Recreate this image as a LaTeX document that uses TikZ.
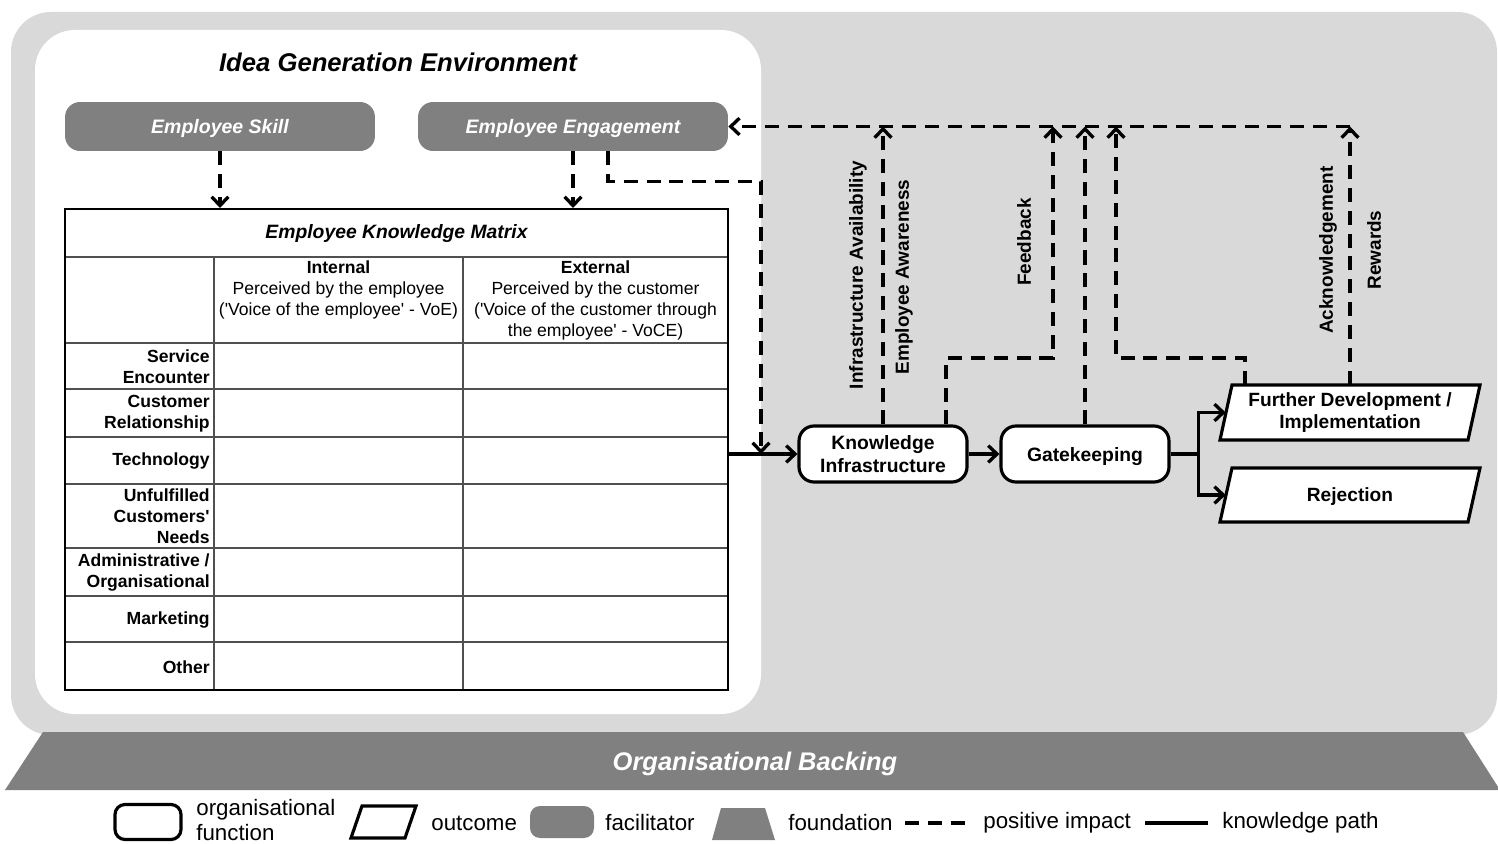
\documentclass[tikz,border=0pt]{standalone}
\usepackage{fontspec}
\setmainfont{Liberation Sans}[Ligatures=TeXOff]
\usetikzlibrary{arrows.meta,calc}
\definecolor{panelgray}{RGB}{217,217,217}
\definecolor{darkfill}{RGB}{128,128,128}
\definecolor{gridgray}{RGB}{80,80,80}
\begin{document}
\begin{tikzpicture}[x=0.02cm,y=-0.02cm,
  tip/.style={-{Straight Barb[length=5pt,width=9.5pt]}},
  impact/.style={line width=1.9pt,dash pattern=on 8pt off 5pt},
  kpath/.style={line width=1.9pt},
  facil/.style={fill=darkfill,rounded corners=0.3cm,minimum width=6.2cm,minimum height=0.98cm,inner sep=0pt,text depth=0pt,text=white,font=\bfseries\itshape\fontsize{11.1}{13}\selectfont},
  func/.style={draw,line width=1.8pt,fill=white,rounded corners=0.3cm,minimum width=3.36cm,minimum height=1.12cm,inner sep=0pt,align=center,font=\bfseries\fontsize{11}{13}\selectfont},
  outline/.style={draw,line width=1.8pt,fill=white,line join=miter},
  outcome/.style={minimum width=4.96cm,minimum height=1.1cm,inner sep=0pt,align=center,font=\bfseries\fontsize{10.9}{12.5}\selectfont},
  rowlab/.style={anchor=east,align=right,inner sep=0pt,font=\bfseries\fontsize{10}{11.9}\selectfont},
  hdr/.style={align=center,inner sep=0pt,font=\fontsize{10}{11.9}\selectfont},
  vlab/.style={rotate=90,inner sep=0pt,font=\bfseries\fontsize{10.8}{13}\selectfont},
  legtext/.style={anchor=west,inner sep=0pt,align=left,font=\fontsize{12.7}{14}\selectfont},
  grid/.style={draw=gridgray,line width=0.7pt},
]
\useasboundingbox (0,0) rectangle (1498,844);

% panels
\fill[panelgray,rounded corners=0.8cm] (11,12) rectangle (1497,735);
\fill[white,rounded corners=0.8cm] (35,30) rectangle (761,714);

% foundation
\fill[darkfill] (43,732) -- (1463,732) -- (1500,790) -- (5,790) -- cycle;
\node[text=white,font=\bfseries\itshape\fontsize{14.5}{17}\selectfont] (backing) at (755,764) {Organisational Backing};

% idea generation environment
\node[font=\bfseries\itshape\fontsize{14.6}{17}\selectfont] (envtitle) at (398,62) {Idea Generation Environment};
\node[facil] (skill) at (220,126.5) {Employee Skill};
\node[facil] (engage) at (573,126.5) {Employee Engagement};

% employee knowledge matrix
\foreach \yy in {257,343,389,437,484,548,596,642} \draw[grid] (65,\yy) -- (728,\yy);
\foreach \xx in {214,463} \draw[grid] (\xx,257) -- (\xx,690);
\node[draw,line width=1.2pt,minimum width=13.26cm,minimum height=9.62cm,inner sep=0pt] (matrix) at (396.5,449.5) {};
\node[font=\bfseries\itshape\fontsize{11}{13}\selectfont] (mtitle) at (396.5,234) {Employee Knowledge Matrix};
\node[hdr] (internal) at (338.5,290) {\textbf{Internal}\\Perceived by the employee\\('Voice of the employee' - VoE)};
\node[hdr] (external) at (595.5,300.5) {\textbf{External}\\Perceived by the customer\\('Voice of the customer through\\the employee' - VoCE)};
\node[rowlab] (r1) at (210,366.5) {Service\\Encounter};
\node[rowlab] (r2) at (210,413.5) {Customer\\Relationship};
\node[rowlab] (r3) at (210,461) {Technology};
\node[rowlab] (r4) at (210,516.5) {Unfulfilled\\Customers'\\Needs};
\node[rowlab] (r5) at (210,572.5) {Administrative /\\Organisational};
\node[rowlab] (r6) at (210,620) {Marketing};
\node[rowlab] (r7) at (210,667) {Other};

% organisational functions and outcomes
\node[func] (ki) at (883,454) {Knowledge\\Infrastructure};
\node[func,text depth=0pt] (gk) at (1085,454) {Gatekeeping};
\draw[outline] (1232,385) -- (1480,385) -- (1468,440) -- (1220,440) -- cycle;
\node[outcome] (fd) at (1350,412.5) {Further Development /\\Implementation};
\draw[outline] (1232,468) -- (1480,468) -- (1468,522) -- (1220,522) -- cycle;
\node[outcome,text depth=0pt] (rej) at (1350,495) {Rejection};

% knowledge path
\draw[kpath,tip] (matrix.east |- ki.west) -- (ki.west);
\draw[kpath,tip] (ki.east) -- (gk.west);
\draw[kpath] (gk.east) -- ++(28,0) coordinate (split);
\draw[kpath,tip] (split) |- (fd.west);
\draw[kpath,tip] (split) |- (rej.west);

% positive impacts
\coordinate (join) at (761,454);
\draw[impact,tip] (skill.south) -- (skill.south |- matrix.north);
\draw[impact,tip] (engage.south) -- (engage.south |- matrix.north);
\draw[impact,tip] ([xshift=0.7cm]engage.south) -- ++(0,30) -| (join);
\draw[impact,tip] (ki.north) -- (ki.north |- engage.east);
\draw[impact,tip] ([xshift=1.26cm]ki.north) |- (1053,358) -- (1053,126.5);
\draw[impact,tip] (gk.north) -- (gk.north |- engage.east);
\draw[impact,tip] ([xshift=-2.1cm]fd.north) |- (1116,358) -- (1116,126.5);
\draw[impact,tip] (fd.north) -- (fd.north |- engage.east);
\draw[impact,tip] (fd.north |- engage.east) -- (engage.east);

% impact labels
\node[vlab] (lavail) at (858,275) {Infrastructure Availability};
\node[vlab] (laware) at (904,277) {Employee Awareness};
\node[vlab] (lfeed) at (1024,242) {Feedback};
\node[vlab] (lack) at (1328,250) {Acknowledgement};
\node[vlab] (lrew) at (1374,250) {Rewards};

% legend
\node[draw,line width=1.8pt,rounded corners=0.2cm,minimum width=1.32cm,minimum height=0.7cm,inner sep=0pt] (kfunc) at (148,822) {};
\node[legtext] (tfunc) at (196,820) {organisational\\function};
\draw[outline] (362,806) -- (416,806) -- (405,838) -- (351,838) -- cycle;
\node[legtext] (tout) at (431,823) {outcome};
\node[fill=darkfill,rounded corners=0.2cm,minimum width=1.28cm,minimum height=0.64cm,inner sep=0pt] (kfac) at (562,822) {};
\node[legtext] (tfac) at (605,823) {facilitator};
\fill[darkfill] (721,808) -- (765,808) -- (775,840) -- (712,840) -- cycle;
\node[legtext] (tfound) at (788,823) {foundation};
\coordinate (imp1) at (905,823);
\coordinate (imp2) at (968,823);
\draw[impact] (imp1) -- (imp2);
\node[legtext] (timp) at (983,823) {positive impact};
\coordinate (kp1) at (1145,823);
\coordinate (kp2) at (1208,823);
\draw[kpath] (kp1) -- (kp2);
\node[legtext] (tkp) at (1222,823) {knowledge path};
\end{tikzpicture}
\end{document}
